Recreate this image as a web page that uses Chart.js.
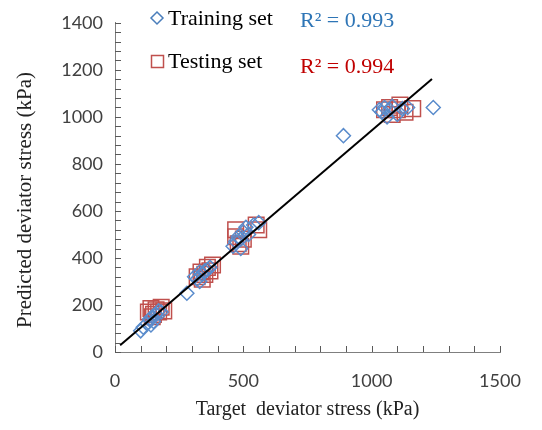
<!DOCTYPE html>
<html>
<head>
<meta charset="utf-8">
<script src="https://cdn.jsdelivr.net/npm/chart.js@4.4.1/dist/chart.umd.min.js"></script>
<style>
  html, body { margin: 0; padding: 0; background: #fff; }
  #wrap { width: 542px; height: 430px; }
</style>
</head>
<body>
<div id="wrap"><canvas id="scatter" width="542" height="430"></canvas></div>
<script>
// values (kPa)
const trainTarget = [100, 110, 125, 135, 145, 150, 160, 170, 140, 180,
  280,
  310, 320, 330, 340, 350, 360, 370, 330,
  460, 470, 480, 490, 500, 510, 520, 540, 560, 490,
  890,
  1030, 1040, 1050, 1060, 1070, 1080, 1100, 1120, 1140, 1240]
const trainPred = [90, 105, 120, 140, 150, 130, 160, 175, 115, 170,
  250,
  320, 310, 340, 330, 345, 350, 360, 300,
  450, 470, 490, 480, 510, 530, 500, 540, 550, 440,
  920,
  1030, 1020, 1040, 1000, 1030, 1045, 1010, 1035, 1040, 1040]

const testTarget = [130, 140, 150, 160, 170, 180, 145, 190,
  320, 335, 350, 360, 380, 340, 370,
  470, 480, 490, 500, 550, 560, 470,
  1050, 1070, 1080, 1100, 1110, 1130, 1160]
const testPred = [170, 185, 160, 180, 170, 190, 150, 175,
  320, 340, 330, 360, 370, 310, 345,
  520, 460, 450, 480, 540, 520, 490,
  1030, 1040, 1010, 1030, 1050, 1020, 1035]

// trend line end points
const fitX = [20, 1235]
const fitY = [29, 1161]

const xTicks = [0, 500, 1000, 1500]
const yTicks = [0, 200, 400, 600, 800, 1000, 1200, 1400]

const toPts = (xs, ys) => xs.map((x, i) => ({ x: x, y: ys[i] }))

// inward minor tick marks, y title, legend block and R² notes
const notes = {
  id: 'notes',
  afterDraw(chart) {
    const ctx = chart.ctx
    const xs = chart.scales.x, ys = chart.scales.y
    const a = chart.chartArea
    ctx.save()
    ctx.strokeStyle = '#595959'
    ctx.lineWidth = 1
    ctx.beginPath()
    for (let v = 0; v <= 1500; v += 100) {
      const px = Math.round(xs.getPixelForValue(v)) + 0.5
      ctx.moveTo(px, a.bottom)
      ctx.lineTo(px, a.bottom - 6)
    }
    for (let v = 0; v <= 1400; v += 40) {
      const py = Math.round(ys.getPixelForValue(v)) + 0.5
      ctx.moveTo(a.left, py)
      ctx.lineTo(a.left + 6, py)
    }
    ctx.stroke()

    // y axis title
    ctx.save()
    ctx.translate(25, 200)
    ctx.rotate(-Math.PI / 2)
    ctx.font = '21px "Liberation Serif", "Times New Roman", serif'
    ctx.fillStyle = '#222'
    ctx.textAlign = 'center'
    ctx.textBaseline = 'middle'
    ctx.fillText('Predicted deviator stress (kPa)', 0, 0)
    ctx.restore()

    ctx.font = '22px "Liberation Serif", "Times New Roman", serif'
    ctx.textBaseline = 'middle'
    // diamond
    ctx.strokeStyle = '#4a7ebb'
    ctx.lineWidth = 1.5
    ctx.beginPath()
    ctx.moveTo(157, 12); ctx.lineTo(163, 18); ctx.lineTo(157, 24); ctx.lineTo(151, 18); ctx.closePath()
    ctx.stroke()
    // square
    ctx.strokeStyle = '#c0504d'
    ctx.strokeRect(151.5, 55.5, 12, 12)
    ctx.fillStyle = '#000'
    ctx.fillText('Training set', 168, 19)
    ctx.fillText('Testing set', 168, 62)
    ctx.fillStyle = '#2e75b6'
    ctx.fillText('R² = 0.993', 300, 21)
    ctx.fillStyle = '#c00000'
    ctx.fillText('R² = 0.994', 300, 67)
    ctx.restore()
  }
}

const scatterConfig = {
  type: 'scatter',
  data: {
    datasets: [{
      label: 'Training set',
      data: toPts(trainTarget, trainPred),
      pointStyle: 'rectRot',
      pointRadius: 7,
      pointHoverRadius: 7,
      borderColor: '#5a8ccc',
      backgroundColor: 'rgba(0,0,0,0)',
      pointBorderWidth: 1.5,
      order: 2,
    }, {
      label: 'Testing set',
      data: toPts(testTarget, testPred),
      pointStyle: 'rect',
      pointRadius: 11,
      pointHoverRadius: 11,
      borderColor: '#c0504d',
      backgroundColor: 'rgba(0,0,0,0)',
      pointBorderWidth: 1.5,
      order: 3,
    }, {
      label: 'fit',
      type: 'line',
      data: toPts(fitX, fitY),
      borderColor: '#000',
      borderWidth: 2,
      pointRadius: 0,
      fill: false,
      order: 1,
    }],
  },
  options: {
    responsive: false,
    animation: false,
    layout: { padding: { top: 18, right: 42, left: 0, bottom: 0 } },
    plugins: {
      legend: { display: false },
      tooltip: { enabled: false },
    },
    scales: {
      x: {
        type: 'linear',
        min: 0, max: 1500,
        afterBuildTicks: s => { s.ticks = xTicks.map(v => ({ value: v })) },
        afterFit: s => { s.height = 78 },
        grid: { display: false, drawTicks: false },
        border: { display: true, color: '#7f7f7f', width: 1 },
        ticks: {
          padding: 18,
          color: '#404040',
          font: { family: 'Lato, "Open Sans", sans-serif', size: 18 },
          maxRotation: 0,
          callback: v => String(v),
        },
        title: {
          display: true,
          text: 'Target  deviator stress (kPa)',
          color: '#222',
          font: { family: '"Liberation Serif", "Times New Roman", serif', size: 20 },
          padding: { top: 6, bottom: 8 },
        },
      },
      y: {
        type: 'linear',
        min: 0, max: 1400,
        afterBuildTicks: s => { s.ticks = yTicks.map(v => ({ value: v })) },
        afterFit: s => { s.width = 115 },
        grid: { display: false, drawTicks: false },
        border: { display: true, color: '#7f7f7f', width: 1 },
        ticks: {
          padding: 12,
          color: '#404040',
          font: { family: 'Lato, "Open Sans", sans-serif', size: 18 },
          callback: v => String(v),
        },
      },
    },
  },
  plugins: [notes],
}

const ctx = document.getElementById('scatter')
window.myScatter = new Chart(ctx, scatterConfig)
</script>
</body>
</html>
